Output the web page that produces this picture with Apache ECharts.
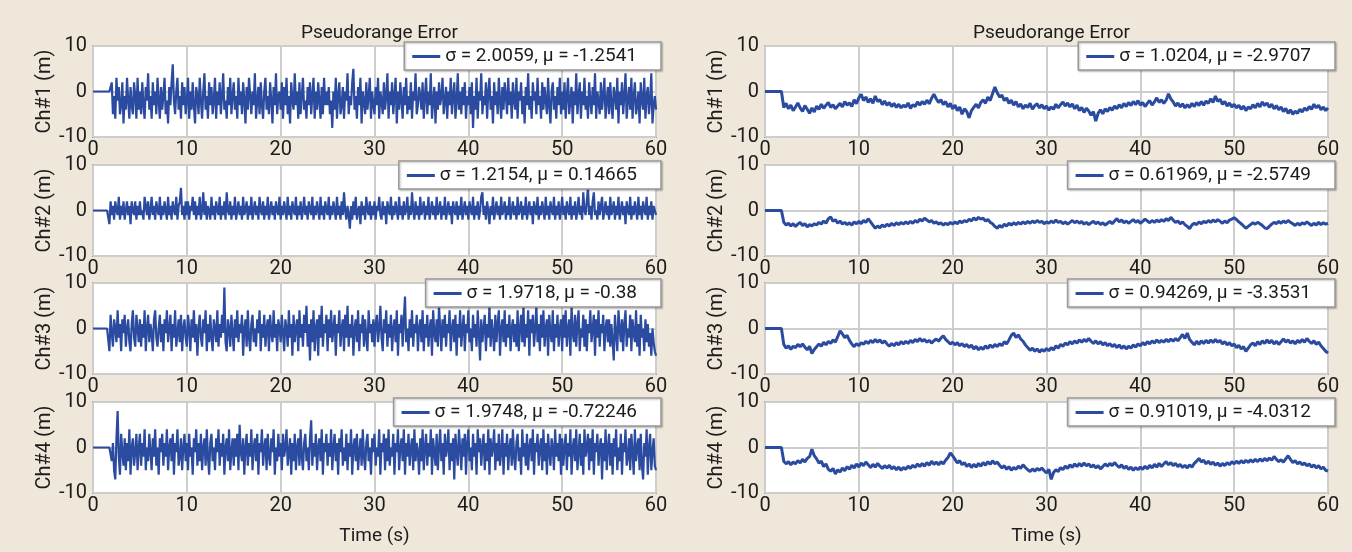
<!DOCTYPE html>
<html>
<head>
<meta charset="utf-8">
<script src="https://cdn.jsdelivr.net/npm/echarts@6/dist/echarts.min.js"></script>
<style>
html,body{margin:0;padding:0;background:#efe7da;}
#chart{width:1352px;height:552px;}
</style>
</head>
<body>
<div id="chart"></div>
<script>
// ---- data ----
// left column sampled every 0.125 s, right column every 0.25 s (t = 0 … 60 s)
const LEFT_STEP = 0.125;
const RIGHT_STEP = 0.25;
const xTicks = [0, 10, 20, 30, 40, 50, 60];
const yTicks = [-10, 0, 10];
const panelTitle = 'Pseudorange Error';
const timeLabel = 'Time (s)';
const channelNames = ['Ch#1 (m)', 'Ch#2 (m)', 'Ch#3 (m)', 'Ch#4 (m)'];
const legendLeft = ['σ = 2.0059, μ = -1.2541', 'σ = 1.2154, μ = 0.14665', 'σ = 1.9718, μ = -0.38', 'σ = 1.9748, μ = -0.72246'];
const legendRight = ['σ = 1.0204, μ = -2.9707', 'σ = 0.61969, μ = -2.5749', 'σ = 0.94269, μ = -3.3531', 'σ = 0.91019, μ = -4.0312'];

const left1 = [
0,0,0,0,0,0,0,0,0,0,0,0,0,0,0,0,2,-5,-1,-6,3,-2,1,-5,-3,2,-7,-1,-4,3,-2,-6,1,-3,-5,2,-1,-6,3,-4,
0,-5,2,-3,-6,1,-2,4,-4,-1,-6,2,-3,0,-5,3,-2,-6,1,-4,-1,3,-5,-2,-7,1,-3,2,6,-2,-5,0,3,-4,-1,-6,2,-3,1,-5,
-2,3,-6,0,-4,2,-3,-7,1,-1,-5,3,-2,-6,0,4,-4,-1,-6,2,-3,1,-5,-2,3,-6,0,-3,2,-5,-1,4,-4,-2,-6,1,-3,3,-5,-1,
2,-4,-1,-6,3,-3,0,-5,2,-2,-7,1,-4,3,-1,-5,0,-3,4,-6,-2,1,-5,2,-3,-6,0,3,-4,-1,-5,2,-2,-7,1,-3,4,-5,-1,0,
-4,2,-6,1,-3,3,-5,-1,-7,2,-2,-4,4,-3,0,-6,2,-5,-1,3,-4,-2,-6,1,-3,2,-5,-1,3,-6,0,-4,2,-2,-6,1,-5,3,-3,0,
-3,1,-5,-2,-8,0,-4,3,-6,-1,2,-5,-3,1,-6,0,-2,4,-5,-1,-3,2,5,-4,-1,-6,1,-3,3,-7,0,-2,-5,2,-4,-1,3,-6,0,-3,
-5,1,-3,3,-6,0,-2,-5,2,-4,-1,4,-6,0,-3,2,-5,-1,3,-7,0,-4,2,-2,-6,1,-3,3,-5,-1,-4,2,-6,0,-2,4,-5,-3,1,-1,
-4,2,-6,-1,3,-5,0,-3,4,-6,-2,1,-7,0,-4,2,-3,-1,3,-5,-2,1,-6,0,-3,3,-5,-1,2,-6,-2,4,-4,0,-5,1,-3,2,-6,-1,
-3,1,-5,2,-8,-1,-4,3,-6,0,-2,4,-5,-1,-3,2,-6,0,3,-4,-1,-7,2,-3,0,-5,3,-2,-6,1,-4,2,-1,-5,3,-3,0,-6,2,-2,
-4,3,-6,0,-2,2,-5,-1,-7,1,-3,4,-4,-1,-6,2,-2,0,-5,3,-3,-1,-6,2,-4,1,-2,-5,3,-3,-7,0,2,-4,-1,-6,1,-3,3,-5,
0,-4,2,-6,-1,3,-5,-2,1,-7,0,-3,4,-5,-1,2,-6,0,-3,3,-4,-1,-6,2,-2,-5,1,-3,4,-6,0,-2,-5,2,-4,-1,3,-6,-2,1,
-5,2,-3,-6,1,-1,-4,3,-7,0,-3,2,-5,-1,4,-6,-2,1,-4,3,-6,-1,2,-5,-3,0,-7,2,-2,-4,3,-6,-1,1,-5,-2,4,-7,-3,-1,
-4];
const left2 = [
0,0,0,0,0,0,0,0,0,0,0,0,0,0,-3,2,-1,1,-2,2,0,-1,3,-2,1,-1,2,-2,0,2,-1,1,-3,2,0,-1,2,-2,1,-1,
2,-1,0,-2,3,1,-1,2,-2,0,3,-1,1,-2,2,0,-1,3,-2,1,-1,2,0,-2,3,-1,1,-2,2,0,-1,3,-2,1,2,5,-1,1,-2,2,
-1,2,-2,1,0,3,-1,2,-2,1,-1,3,-2,0,4,-1,2,-2,1,0,-2,3,-1,1,-2,2,0,-1,3,-2,1,-1,2,-2,4,0,-1,2,-2,1,
-1,3,-2,0,2,-1,1,-2,3,-1,0,2,-2,1,-1,3,-2,0,2,-1,1,-2,3,0,-1,2,-2,1,-1,3,-2,0,2,-1,1,-2,2,0,-1,3,
-2,1,-1,2,0,-2,3,-1,1,-2,2,0,-1,3,-2,1,-1,2,-2,0,3,-1,1,-2,2,0,-1,3,-2,1,-1,2,0,-2,3,-1,1,-2,2,0,
-1,3,-2,1,-1,2,0,-2,3,-1,1,-2,2,-1,4,0,-2,1,-1,-4,1,-2,2,-1,3,-2,0,1,-3,2,-1,1,-2,3,0,-1,2,-2,1,-1,
2,-2,1,0,3,-1,-2,2,-1,1,-3,2,0,-1,3,-2,1,-1,2,0,-2,3,-1,1,-2,2,-1,0,3,-2,1,-1,4,0,-2,2,-1,1,-2,3,
-1,0,2,-2,1,-1,3,-2,0,2,-1,1,-2,3,-1,0,2,-2,1,-1,3,-2,0,2,-1,1,-3,2,0,-1,2,-2,1,-1,3,-2,0,2,-1,1,
-2,2,0,-1,3,-2,1,-1,2,-2,0,3,4,-1,1,-2,2,0,-3,1,-1,3,-2,0,2,-1,1,-2,3,-1,0,2,-2,1,-1,3,-2,0,2,-1,
1,-2,3,-1,0,2,-2,1,-1,3,-2,0,2,-1,1,-3,2,0,-1,3,-2,1,-1,2,0,-2,3,-1,1,-2,2,0,-1,3,-2,1,-1,2,-2,0,
3,-1,1,-2,2,0,-1,3,-2,1,-1,2,-2,0,3,-1,1,-2,4,0,-1,2,5,-1,1,-2,2,4,-1,0,-2,2,-1,1,3,-2,0,2,-1,1,
-2,3,-1,0,2,-2,1,-1,3,-2,0,2,-1,1,-3,2,0,-1,3,-2,1,-1,2,0,-2,3,-1,1,-2,2,0,-1,3,-2,1,-1,2,-2,1,0,
-1];
const left3 = [
0,0,0,0,0,0,0,0,0,0,0,0,0,0,-5,3,-1,-4,2,0,-3,4,-2,1,-5,2,-1,3,-4,0,2,-3,-5,1,4,-2,-4,3,0,-3,
2,-4,1,-2,4,-5,0,3,-3,1,-1,-5,2,4,-2,-4,0,3,-3,1,-5,2,-1,4,-3,0,3,-5,1,-2,4,-4,-1,2,-3,3,-5,0,2,-2,
-4,3,0,-5,2,-2,4,-3,1,-6,0,3,-2,-4,2,-1,4,-5,1,-3,3,-2,-5,2,0,-3,4,-4,1,-2,3,-1,9,-3,-5,2,0,-4,3,-1,
-5,2,-2,4,-3,1,-1,3,-6,0,2,-4,4,-2,-5,1,3,-3,0,-4,2,-1,4,-5,1,-2,3,-4,0,2,-5,3,-1,-3,4,-2,1,-5,2,0,
-3,3,-1,-5,2,0,-4,4,-2,1,-6,3,-3,0,2,-5,4,-2,1,-4,3,-1,5,-4,1,-7,2,-3,4,-5,0,2,-6,3,-2,5,-4,1,-1,3,
-5,2,-2,4,-3,0,3,-6,1,-1,4,-4,0,2,-5,3,-2,5,-4,1,-2,3,-6,0,2,-3,4,-5,1,-1,3,-4,2,-2,-5,4,-1,1,-3,2,
-4,1,3,-3,0,5,-2,-5,2,-1,4,-4,1,-2,3,-5,0,2,-3,4,-6,1,-1,3,-4,2,7,-3,0,-5,2,-2,4,-4,1,-1,3,-5,0,2,
-3,4,-5,1,-2,3,-4,0,2,-6,4,-1,-3,2,-4,5,0,-5,2,-2,3,-4,1,-1,4,-5,0,2,-3,3,-6,1,-2,4,-4,0,3,-5,1,-1,
4,-3,0,-5,3,-2,1,-4,4,-1,-7,2,-3,0,3,-5,1,-2,5,-4,2,-1,-5,3,-3,1,4,-6,0,2,-3,4,-4,1,-2,3,-5,0,2,-3,
1,-4,4,-5,0,3,-3,5,-4,1,-2,4,-6,2,-1,3,-4,0,5,-3,1,-5,3,-2,4,-4,0,2,-6,3,-1,-3,4,-5,1,-2,3,-4,0,2,
-5,3,-2,4,-4,0,2,-6,5,-1,-3,3,-4,1,4,-5,0,-2,3,-4,2,-5,1,-1,4,-3,0,3,-6,2,-2,4,-4,1,-1,3,-5,0,2,-3,
2,-4,1,-3,-7,3,-1,-5,4,0,-3,2,-5,1,4,-4,0,-2,3,-5,2,-1,-3,4,-4,1,-6,3,-2,0,-5,2,-3,1,-4,-1,-6,0,-3,-5,
-6];
const left4 = [
0,0,0,0,0,0,0,0,0,0,0,0,0,0,0,0,-3,1,-5,-7,2,8,-2,-6,3,-1,-4,2,-5,1,-3,4,-6,0,2,-4,-1,3,-5,0,
3,-4,1,-2,4,-5,0,-3,3,-1,-5,2,-2,4,-4,0,-6,2,-1,3,-4,1,-2,4,-5,0,2,-3,3,-6,1,-1,4,-4,-2,2,-5,0,3,-3,
1,-5,3,-2,0,-6,2,-1,4,-4,1,-3,3,-5,0,2,-4,4,-2,-6,1,3,-3,0,-5,2,-1,4,-4,1,-2,3,-6,0,2,-3,4,-5,-1,2,
-4,2,-2,3,-5,5,-1,-3,2,-6,0,3,-4,1,-2,4,-5,0,2,-3,3,-6,1,-1,4,-4,0,2,-5,3,-2,-4,2,-1,4,-6,0,-3,3,-2,
1,-5,3,-2,0,4,-4,-1,2,-6,1,-3,3,-5,0,2,-4,4,-2,-5,1,3,-3,0,-5,2,6,-4,1,-2,3,-5,0,2,-3,4,-6,1,-1,3,
-4,1,-2,4,-5,0,3,-3,1,-6,2,-1,4,-4,0,-3,3,-5,1,-2,4,-6,0,2,-3,3,-5,-1,2,-4,4,-2,-5,1,3,-3,0,-6,2,-1,
3,-4,0,-2,4,-6,1,-1,3,-5,2,-3,4,-4,0,-2,3,-6,1,-1,4,-5,0,2,-3,4,-6,1,-2,3,-4,0,2,-5,4,-3,1,-1,-6,2,
-3,4,-5,0,3,-4,1,-2,4,-6,2,-1,-4,3,-5,0,4,-3,1,-6,3,-2,0,4,-5,1,-3,2,-7,3,-1,-4,4,0,-5,2,-2,3,-6,1,
4,-3,0,-5,3,-2,1,-6,4,-1,2,-4,0,3,-5,1,-3,4,-6,2,-2,0,4,-5,1,-3,3,-4,-1,4,-6,1,-2,3,-5,0,2,-4,4,-2,
-5,1,3,-3,0,-6,4,-2,1,-4,3,-5,0,2,-3,4,-6,1,-1,3,-4,0,2,-5,4,-3,1,-6,3,-1,-4,2,0,-5,4,-2,1,-3,3,-6,
2,-4,0,3,-5,1,-2,4,-6,0,2,-3,4,-5,-1,3,-4,1,-6,4,-2,0,3,-5,2,-3,4,-6,1,-1,3,-4,0,2,-7,1,-3,4,-5,0,
3,-4,1,-6,2,-2,4,-5,0,-3,3,-6,1,-1,4,-4,-2,2,-5,3,-1,-6,4,-3,0,2,-5,3,-4,-7,1,-2,4,-6,0,3,-5,-1,2,-4,
-5];
const right1 = [
0,0,0,0,0,0,0,0,-3.5,-2.6,-3.8,-3.0,-4.2,-3.4,-2.5,-3.6,-4.4,-3.1,-3.9,-4.8,
-3.6,-4.5,-3.2,-3.9,-2.8,-3.7,-3.0,-2.4,-3.5,-2.9,-3.8,-3.2,-2.6,-3.4,-2.2,-3.0,-2.5,-3.3,-1.8,-2.7,
-1.4,-0.6,-2.0,-1.2,-2.4,-1.6,-2.6,-1.0,-2.2,-1.8,-2.9,-2.1,-3.0,-2.4,-3.3,-2.6,-3.5,-2.8,-3.6,-3.0,
-3.4,-2.5,-3.7,-2.9,-3.3,-2.3,-3.0,-2.2,-2.8,-1.9,-2.7,-1.5,-0.6,-1.6,-2.4,-1.8,-2.9,-2.2,-3.4,-2.6,
-3.8,-3.0,-4.2,-3.4,-5.0,-3.8,-4.4,-5.8,-4.2,-3.5,-2.8,-3.6,-2.4,-1.8,-2.6,-1.2,-2.0,-0.5,1.0,-0.3,
-1.2,-0.8,-2.0,-1.4,-2.6,-1.9,-3.0,-2.2,-3.4,-2.7,-3.8,-3.0,-3.5,-2.6,-3.9,-3.1,-2.7,-3.6,-2.9,-3.8,
-3.2,-4.1,-3.4,-3.9,-2.8,-3.6,-2.9,-2.3,-3.2,-2.5,-3.4,-2.7,-3.8,-3.0,-4.2,-3.5,-4.6,-3.7,-4.3,-5.2,
-4.4,-6.5,-4.8,-4.0,-4.9,-3.8,-4.4,-3.5,-4.1,-3.2,-3.8,-2.9,-3.6,-2.6,-3.3,-2.4,-3.1,-2.2,-2.9,-2.0,
-3.0,-2.4,-3.3,-2.6,-2.0,-3.0,-2.3,-1.4,-2.4,-1.8,-2.6,-1.9,-0.5,-1.6,-2.3,-3.2,-2.5,-3.4,-2.7,-3.6,
-2.9,-3.5,-2.6,-3.3,-2.4,-3.1,-2.2,-3.0,-2.1,-2.6,-1.6,-2.4,-1.0,-2.2,-1.7,-2.8,-2.2,-3.2,-2.5,-3.4,
-2.8,-3.6,-3.0,-3.9,-3.2,-4.2,-3.4,-3.8,-2.9,-3.6,-2.6,-3.4,-2.3,-3.1,-2.5,-3.5,-2.8,-3.8,-3.1,-4.0,
-3.4,-4.4,-3.7,-4.8,-4.0,-5.0,-4.3,-4.8,-3.9,-4.5,-3.6,-4.2,-3.3,-3.9,-2.8,-3.6,-3.0,-4.0,-3.4,-4.2,
-3.6];
const right2 = [
0,0,0,0,0,0,0,0,-2.6,-3.2,-2.8,-3.4,-2.9,-3.5,-3.0,-2.6,-3.3,-2.9,-3.6,-3.1,
-3.4,-2.9,-3.2,-2.6,-3.0,-2.3,-2.8,-1.8,-1.4,-2.4,-2.0,-2.8,-2.3,-3.0,-2.6,-3.1,-2.7,-3.2,-2.5,-2.9,
-2.4,-2.9,-2.2,-2.6,-1.8,-2.5,-3.2,-3.9,-3.4,-3.8,-3.2,-3.6,-3.0,-3.4,-2.8,-3.3,-2.7,-3.1,-2.6,-3.0,
-2.5,-2.9,-2.4,-2.8,-2.2,-2.6,-1.9,-2.3,-1.7,-2.1,-2.5,-2.2,-2.8,-2.5,-3.0,-2.7,-3.2,-2.8,-3.1,-2.6,
-3.0,-2.5,-2.9,-2.3,-2.7,-2.2,-2.5,-1.9,-2.3,-1.6,-2.1,-1.5,-1.9,-1.7,-2.3,-2.0,-2.6,-2.9,-3.5,-3.9,
-3.3,-3.7,-3.0,-3.4,-2.8,-3.2,-2.7,-3.1,-2.6,-3.0,-2.5,-2.9,-2.4,-2.8,-2.3,-2.7,-2.2,-2.6,-2.4,-2.9,
-2.5,-2.8,-2.3,-2.7,-2.1,-2.6,-2.4,-2.9,-2.5,-3.0,-2.6,-2.2,-2.7,-2.3,-2.8,-2.4,-3.0,-2.6,-3.1,-2.7,
-2.4,-2.9,-2.5,-3.1,-2.7,-3.2,-2.8,-2.4,-2.9,-2.3,-1.8,-2.5,-2.1,-2.7,-2.3,-2.8,-2.4,-2.0,-2.6,-2.2,
-2.8,-2.4,-1.9,-2.3,-2.7,-2.2,-2.6,-2.1,-2.5,-2.0,-2.4,-1.8,-2.2,-1.5,-2.1,-2.6,-2.3,-2.9,-2.5,-3.1,
-3.5,-4.0,-3.2,-2.8,-3.1,-2.5,-2.9,-2.4,-2.7,-2.2,-2.6,-2.1,-2.5,-2.0,-2.4,-2.8,-2.3,-2.7,-2.1,-1.9,
-1.6,-2.0,-2.5,-2.9,-3.4,-3.9,-3.5,-3.1,-2.7,-3.0,-2.6,-2.9,-3.3,-3.8,-4.0,-3.5,-3.0,-2.6,-2.9,-2.4,
-2.8,-2.3,-2.7,-2.2,-2.6,-2.9,-3.3,-2.8,-3.2,-2.7,-3.0,-2.5,-2.9,-3.3,-2.8,-3.2,-2.6,-3.1,-2.7,-3.0,
-2.8];
const right3 = [
0,0,0,0,0,0,0,0,-3.5,-4.3,-3.8,-4.6,-3.9,-4.2,-3.5,-4.0,-3.4,-4.1,-4.7,-3.9,
-5.5,-4.6,-4.0,-3.4,-3.9,-3.0,-3.6,-2.8,-3.3,-2.5,-3.0,-1.8,-0.5,-1.2,-2.0,-1.5,-2.6,-3.4,-4.0,-3.3,
-3.8,-3.1,-3.5,-2.8,-3.3,-2.6,-3.1,-2.4,-3.0,-2.5,-3.2,-2.7,-3.4,-3.9,-3.3,-3.8,-3.1,-3.6,-2.9,-3.4,
-2.8,-3.3,-2.6,-3.1,-2.4,-2.9,-2.2,-2.8,-2.4,-3.0,-2.6,-3.2,-2.7,-2.3,-2.8,-2.1,-1.6,-2.4,-2.9,-3.4,
-3.0,-3.6,-3.1,-3.8,-3.3,-4.0,-3.5,-4.2,-3.6,-4.5,-3.9,-4.7,-4.1,-4.6,-3.8,-4.4,-3.6,-4.2,-3.5,-4.0,
-3.3,-3.8,-2.9,-3.4,-2.5,-1.5,-1.0,-2.0,-1.4,-2.3,-2.8,-3.6,-4.2,-4.8,-4.3,-5.0,-4.5,-5.2,-4.6,-5.0,
-4.4,-4.9,-4.2,-4.7,-3.8,-4.3,-3.5,-3.9,-3.2,-3.6,-2.9,-3.4,-2.7,-3.2,-2.5,-3.0,-2.4,-2.9,-2.2,-2.8,
-3.3,-2.7,-3.4,-2.9,-3.6,-3.1,-3.8,-3.3,-4.0,-3.5,-4.2,-3.6,-4.4,-3.8,-4.5,-3.9,-4.3,-3.6,-4.1,-3.4,
-3.8,-3.1,-3.6,-2.9,-3.4,-2.7,-3.2,-2.5,-3.1,-2.6,-3.0,-2.4,-2.9,-2.3,-2.8,-2.2,-2.7,-2.0,-1.3,-2.2,
-1.0,-2.4,-3.0,-3.6,-2.8,-3.5,-2.7,-3.3,-2.6,-3.2,-2.5,-3.1,-2.4,-3.0,-2.6,-3.4,-2.9,-3.6,-3.1,-3.8,
-3.4,-4.2,-3.7,-4.5,-4.0,-5.0,-4.3,-3.6,-3.2,-3.8,-2.9,-3.5,-2.7,-3.3,-2.5,-3.2,-2.6,-3.4,-2.8,-3.5,
-2.9,-2.3,-3.0,-2.5,-3.2,-2.7,-3.4,-2.6,-3.1,-2.4,-3.0,-2.2,-2.8,-3.3,-2.7,-3.5,-3.0,-3.8,-4.4,-5.0,
-5.4];
const right4 = [
0,0,0,0,0,0,0,0,-3.0,-3.6,-3.1,-3.8,-3.2,-3.6,-2.9,-3.4,-2.6,-3.2,-2.4,-2.0,
-0.4,-1.8,-2.5,-3.4,-3.0,-4.2,-3.6,-4.8,-5.2,-4.6,-5.8,-4.9,-5.4,-4.5,-5.1,-4.2,-4.8,-3.9,-4.5,-3.6,
-4.3,-3.4,-4.0,-3.2,-3.8,-4.4,-3.7,-4.3,-3.5,-4.1,-4.6,-4.0,-4.5,-3.9,-4.7,-4.2,-4.9,-4.3,-5.0,-4.4,
-4.8,-4.1,-4.6,-3.9,-4.4,-3.6,-4.2,-3.5,-4.1,-3.3,-3.9,-3.0,-3.7,-3.2,-3.8,-3.1,-3.6,-2.8,-2.2,-1.2,
-1.8,-2.6,-3.4,-2.9,-3.8,-3.3,-4.2,-3.6,-4.4,-3.7,-4.3,-3.5,-4.1,-3.3,-3.9,-3.1,-3.7,-2.9,-3.6,-3.2,
-3.9,-4.5,-4.0,-4.8,-4.2,-5.0,-4.4,-4.8,-4.1,-4.6,-3.8,-4.4,-4.9,-5.3,-4.7,-5.2,-4.6,-5.0,-4.5,-5.1,
-5.6,-4.8,-7.0,-5.5,-4.9,-5.3,-4.4,-4.9,-4.1,-4.6,-3.8,-4.4,-3.6,-4.2,-3.5,-4.1,-3.4,-4.0,-3.6,-4.3,
-3.8,-4.5,-4.0,-4.7,-4.2,-3.6,-4.1,-3.5,-4.0,-3.3,-3.9,-4.4,-3.8,-4.6,-4.1,-4.8,-4.3,-5.0,-4.4,-4.9,
-4.3,-4.8,-4.1,-4.7,-3.9,-4.5,-3.7,-4.3,-3.5,-4.2,-3.6,-3.1,-3.8,-3.3,-4.0,-3.5,-4.2,-3.7,-4.4,-3.9,
-4.5,-3.8,-4.3,-3.5,-3.0,-2.4,-3.2,-2.8,-3.6,-3.0,-3.7,-3.2,-3.9,-3.4,-4.1,-3.5,-4.0,-3.3,-3.8,-3.1,
-3.6,-3.0,-3.5,-2.9,-3.4,-2.8,-3.3,-2.7,-3.2,-2.6,-3.1,-2.5,-3.0,-2.4,-2.9,-2.3,-2.8,-2.0,-2.6,-3.1,
-2.7,-3.2,-2.5,-1.8,-2.6,-3.3,-2.9,-3.6,-3.2,-3.8,-3.4,-4.0,-3.6,-4.3,-3.8,-4.5,-4.0,-4.7,-4.3,-5.0,
-5.2];

// ---- build chart ----
const FONT = "Roboto, 'Liberation Sans', sans-serif";
const LINE_COLOR = '#2a4b9f';
const seriesValues = [left1, left2, left3, left4, right1, right2, right3, right4];
const legendNames = legendLeft.concat(legendRight);

const GRID_LEFT = [93, 765];
const GRID_W = 563;
const ROW_TOP = [46, 165, 283, 402];
const GRID_H = 91;

const grids = [], xAxes = [], yAxes = [], series = [], legends = [];
seriesValues.forEach((vals, k) => {
  const col = k < 4 ? 0 : 1;
  const row = k % 4;
  const step = col === 0 ? LEFT_STEP : RIGHT_STEP;
  grids.push({
    left: GRID_LEFT[col], top: ROW_TOP[row], width: GRID_W, height: GRID_H,
    show: true, backgroundColor: '#ffffff', borderColor: '#9c9c9c', borderWidth: 2
  });
  xAxes.push({
    type: 'value', gridIndex: k,
    min: xTicks[0], max: xTicks[xTicks.length - 1], interval: xTicks[1] - xTicks[0],
    axisLine: { show: false }, axisTick: { show: false },
    axisLabel: { fontFamily: FONT, fontSize: 20, color: '#1c1c1c', margin: 3 },
    splitLine: { show: true, lineStyle: { color: '#cdcdcd', width: 2 } },
    name: row === 3 ? timeLabel : '', nameLocation: 'middle', nameGap: 34,
    nameTextStyle: { fontFamily: FONT, fontSize: 19, color: '#1c1c1c' }
  });
  yAxes.push({
    type: 'value', gridIndex: k,
    min: yTicks[0], max: yTicks[yTicks.length - 1], interval: yTicks[1] - yTicks[0],
    axisLine: { show: false }, axisTick: { show: false },
    axisLabel: { fontFamily: FONT, fontSize: 20, color: '#1c1c1c', margin: 6 },
    splitLine: { show: true, lineStyle: { color: '#cdcdcd', width: 2 } },
    name: channelNames[row], nameLocation: 'middle', nameGap: 38, nameRotate: 90,
    nameTextStyle: { fontFamily: FONT, fontSize: 20, color: '#1c1c1c' }
  });
  series.push({
    type: 'line', name: legendNames[k], xAxisIndex: k, yAxisIndex: k,
    data: vals.map((v, i) => [i * step, v]),
    showSymbol: false, symbol: 'none', sampling: null,
    lineStyle: { color: LINE_COLOR, width: col === 0 ? 2.2 : 3 }, itemStyle: { color: LINE_COLOR },
    animation: false, clip: true
  });
  legends.push({
    data: [legendNames[k]],
    right: col === 0 ? 1352 - 661 : 17,
    top: ROW_TOP[row] - 4,
    backgroundColor: '#ffffff', borderColor: '#9a9a9a', borderWidth: 1.5,
    shadowColor: 'rgba(0,0,0,0.25)', shadowBlur: 2, shadowOffsetX: 1, shadowOffsetY: 1,
    padding: [5, 24, 4, 8], itemWidth: 28, itemHeight: 3, itemGap: 4, icon: 'rect',
    textStyle: { fontFamily: FONT, fontSize: 19, color: '#1c1c1c' },
    selectedMode: false
  });
});

const chart = echarts.init(document.getElementById('chart'), null, { renderer: 'canvas' });
chart.setOption({
  backgroundColor: '#efe7da',
  animation: false,
  title: [
    { text: panelTitle, left: GRID_LEFT[0] + GRID_W / 2, top: 19, textAlign: 'center',
      textStyle: { fontFamily: FONT, fontSize: 19, fontWeight: 'normal', color: '#1c1c1c' } },
    { text: panelTitle, left: GRID_LEFT[1] + GRID_W / 2, top: 19, textAlign: 'center',
      textStyle: { fontFamily: FONT, fontSize: 19, fontWeight: 'normal', color: '#1c1c1c' } }
  ],
  grid: grids, xAxis: xAxes, yAxis: yAxes, series: series, legend: legends
});
</script>
</body>
</html>
